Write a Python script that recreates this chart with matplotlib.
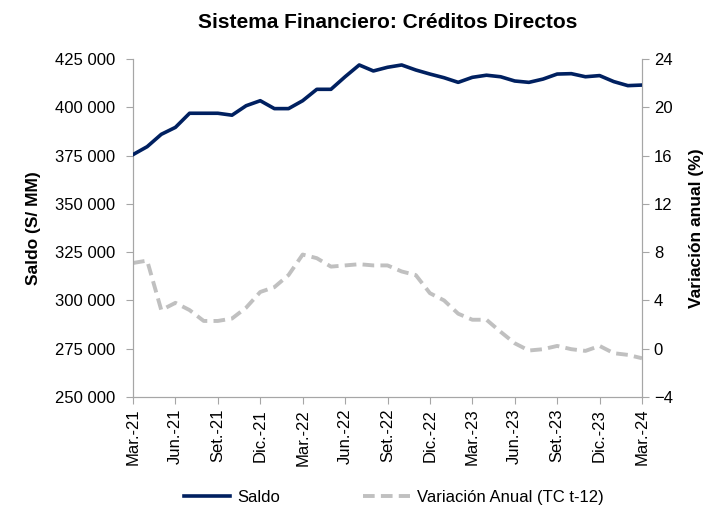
import matplotlib.pyplot as plt
import numpy as np

plt.rcParams['font.family'] = ['Liberation Sans Narrow', 'Liberation Sans', 'DejaVu Sans']

# monthly data Mar-21 .. Mar-24
saldo = [375.5, 379.6, 386.0, 389.6, 396.9, 396.9, 396.9, 395.9, 400.8, 403.4,
         399.3, 399.3, 403.4, 409.3, 409.3, 415.8, 421.9, 418.8, 420.7, 421.9,
         419.3, 417.2, 415.3, 412.9, 415.5, 416.6, 415.8, 413.6, 412.9, 414.6,
         417.2, 417.4, 415.8, 416.4, 413.3, 411.2, 411.5]
saldo = [v * 1000 for v in saldo]
variacion = [7.1, 7.3, 3.2, 3.8, 3.2, 2.3, 2.3, 2.5, 3.4, 4.7,
             5.1, 6.1, 7.8, 7.5, 6.8, 6.9, 7.0, 6.9, 6.9, 6.4,
             6.1, 4.6, 4.0, 2.9, 2.4, 2.4, 1.4, 0.45, -0.15, -0.04,
             0.23, -0.04, -0.18, 0.23, -0.37, -0.51, -0.79]
tick_labels = ['Mar.-21', 'Jun.-21', 'Set.-21', 'Dic.-21', 'Mar.-22', 'Jun.-22',
               'Set.-22', 'Dic.-22', 'Mar.-23', 'Jun.-23', 'Set.-23', 'Dic.-23',
               'Mar.-24']

x = np.arange(len(saldo))

fig = plt.figure(figsize=(7.09, 5.12), dpi=100)
ax = fig.add_axes([0.1876, 0.2246, 0.7179, 0.6602])
ax2 = ax.twinx()

l1, = ax.plot(x, saldo, color='#002060', lw=2.6, label='Saldo', zorder=3)
l2, = ax2.plot(x, variacion, color='#c0c0c0', lw=2.8, ls=(0, (3, 1.6)),
               label='Variación Anual (TC t-12)')
ax.set_zorder(ax2.get_zorder() + 1)
ax.patch.set_visible(False)

ax.set_xlim(0, len(saldo) - 1)
ax.set_ylim(250000, 425000)
ax.set_yticks(np.arange(250000, 425001, 25000))
ax.set_yticklabels([f'{v:,}'.replace(',', ' ') for v in range(250000, 425001, 25000)])
ax2.set_ylim(-4, 24)
ax2.set_yticks(np.arange(-4, 25, 4))

ax.set_xticks(x[::3])
ax.set_xticklabels(tick_labels, rotation=90)

gray = '#a6a6a6'
for a in (ax, ax2):
    a.spines['top'].set_visible(False)
    for s in ('left', 'right', 'bottom'):
        a.spines[s].set_color(gray)
    a.tick_params(colors=gray, labelcolor='black', labelsize=12, length=5)
ax.tick_params(axis='y', pad=8)

ax.set_ylabel('Saldo (S/ MM)', fontsize=12.5, fontweight='bold', labelpad=10)
ax2.set_ylabel('Variación anual (%)', fontsize=12.5, fontweight='bold', labelpad=12)
ax.set_title('Sistema Financiero: Créditos Directos', fontsize=15, fontweight='bold',
             pad=22)

fig.legend(handles=[l1, l2], loc='lower center', bbox_to_anchor=(0.555, -0.015), ncol=2,
           frameon=False, fontsize=12, handlelength=2.8, handletextpad=0.4,
           columnspacing=5)

fig.savefig('out.png', dpi=100)
